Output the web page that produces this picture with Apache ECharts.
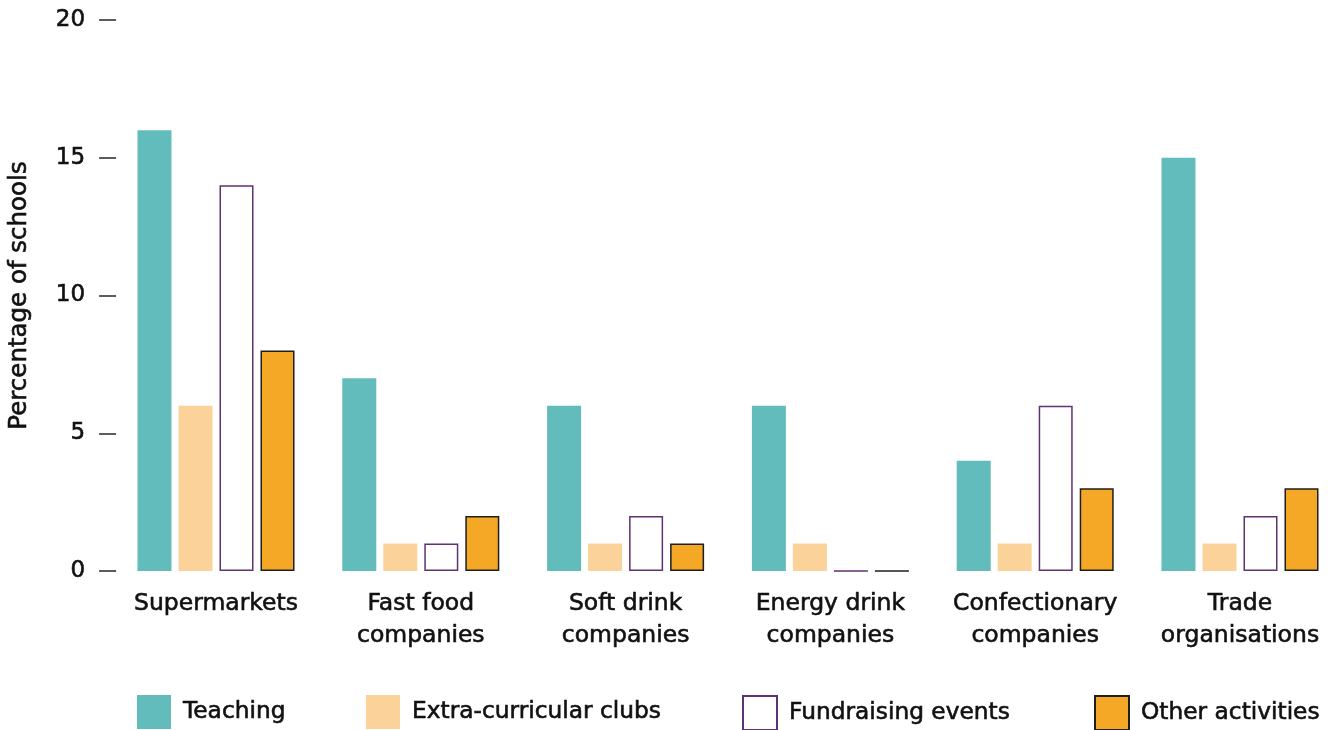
<!DOCTYPE html>
<html>
<head>
<meta charset="utf-8">
<script src="https://cdn.jsdelivr.net/npm/echarts@6/dist/echarts.min.js"></script>
<style>
  html, body { margin: 0; padding: 0; background: #fff; }
  #chart { width: 1336px; height: 730px; }
</style>
</head>
<body>
<div id="chart"></div>
<script>
// Sources of sponsored material, by type of school activity
const categories = [
  'Supermarkets',
  'Fast food\ncompanies',
  'Soft drink\ncompanies',
  'Energy drink\ncompanies',
  'Confectionary\ncompanies',
  'Trade\norganisations'
];
const teaching = [16, 7, 6, 6, 4, 15];
const extraCurricular = [6, 1, 1, 1, 1, 1];
const fundraising = [14, 1, 2, 0, 6, 2];
const otherActivities = [8, 2, 1, 0, 3, 3];
const yTicks = [0, 5, 10, 15, 20];

const FONT = 'DejaVu Sans';
const TEXT = '#111';
// a thin same-colour outline gives the text a medium weight
const heavier = { textBorderColor: TEXT, textBorderWidth: 0.6 };

const chart = echarts.init(document.getElementById('chart'), null, { renderer: 'canvas' });

const barBase = { type: 'bar', barWidth: 34, barGap: '20.6%', animation: false };

function legendAt(name, left) {
  return {
    data: [name],
    left: left,
    top: 695,
    itemWidth: 34,
    itemHeight: 34,
    icon: 'rect',
    padding: 0,
    selectedMode: false,
    textStyle: Object.assign({ fontFamily: FONT, fontSize: 23.3, color: TEXT, padding: [6, 0, 0, 7] }, heavier)
  };
}

chart.setOption({
  backgroundColor: '#ffffff',
  animation: false,
  grid: { left: 113.6, top: 20, right: -6.4, height: 551, containLabel: false, outerBoundsMode: 'none' },
  xAxis: {
    type: 'category',
    data: categories,
    axisLine: { show: false },
    axisTick: { show: false },
    axisLabel: Object.assign({
      fontFamily: FONT, fontSize: 23.5, color: TEXT, lineHeight: 32, margin: 17, interval: 0
    }, heavier)
  },
  yAxis: {
    type: 'value',
    min: yTicks[0],
    max: yTicks[yTicks.length - 1],
    interval: yTicks[1] - yTicks[0],
    offset: -2.5,
    name: 'Percentage of schools',
    nameLocation: 'middle',
    nameGap: 84,
    nameTextStyle: Object.assign({ fontFamily: FONT, fontSize: 24.5, color: TEXT }, heavier),
    axisLine: { show: false },
    axisTick: { show: true, length: 17, lineStyle: { color: '#333', width: 1.6 } },
    axisLabel: Object.assign({ fontFamily: FONT, fontSize: 23, color: TEXT, margin: 31 }, heavier),
    splitLine: { show: false }
  },
  legend: [
    legendAt('Teaching', 137),
    legendAt('Extra-curricular clubs', 366),
    legendAt('Fundraising events', 742),
    legendAt('Other activities', 1094)
  ],
  series: [
    Object.assign({}, barBase, {
      name: 'Teaching', data: teaching,
      itemStyle: { color: '#62BCBC' }
    }),
    Object.assign({}, barBase, {
      name: 'Extra-curricular clubs', data: extraCurricular,
      itemStyle: { color: '#FBD39A' }
    }),
    Object.assign({}, barBase, {
      name: 'Fundraising events', data: fundraising,
      itemStyle: { color: '#ffffff', borderColor: '#5E3273', borderWidth: 1.5 }
    }),
    Object.assign({}, barBase, {
      name: 'Other activities', data: otherActivities,
      itemStyle: { color: '#F4A826', borderColor: '#1E1E1E', borderWidth: 1.5 }
    })
  ]
});
</script>
</body>
</html>
